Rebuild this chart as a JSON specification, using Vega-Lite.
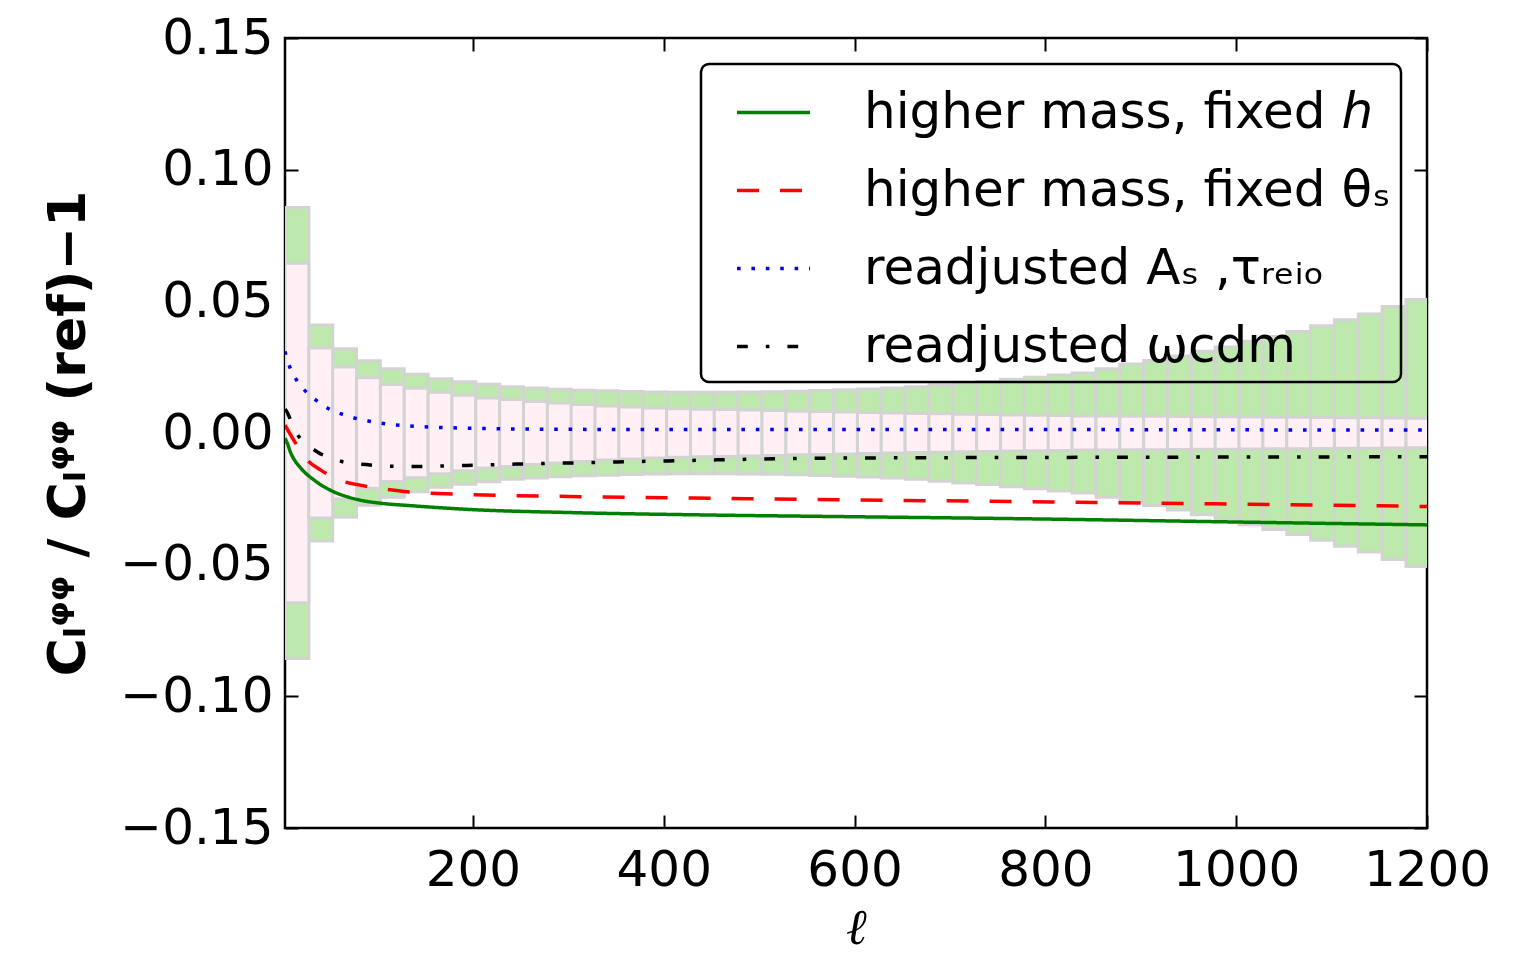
{
  "$schema": "https://vega.github.io/schema/vega-lite/v6.json",
  "autosize": {"type": "none"},
  "padding": {"left": 285, "top": 38, "right": 88, "bottom": 129},
  "width": 1142,
  "height": 790,
  "background": "white",
  "config": {
    "view": {"stroke": "black", "strokeWidth": 2.5},
    "axis": {"grid": false, "domain": false, "tickColor": "black", "tickWidth": 2, "tickSize": -13, "labelColor": "black", "labelFont": "DejaVu Sans", "labelFontSize": 50, "titleColor": "black", "labelOverlap": false, "labelFlush": false},
    "legend": {"strokeColor": "black", "strokeWidth": 2.5, "cornerRadius": 8, "padding": 10, "labelFont": "DejaVu Sans", "labelFontSize": 50, "labelColor": "black", "symbolType": "stroke", "symbolSize": 5329, "symbolStrokeWidth": 3.5, "symbolOffset": 24, "labelOffset": 52, "rowPadding": 14, "offset": 26, "labelLimit": 800}
  },
  "datasets": {
    "bins": [
      {"l0": 3, "l1": 28, "glo": -0.0856, "ghi": 0.0856, "plo": -0.0645, "phi": 0.0645},
      {"l0": 28, "l1": 53, "glo": -0.041, "ghi": 0.041, "plo": -0.0323, "phi": 0.0323},
      {"l0": 53, "l1": 78, "glo": -0.032, "ghi": 0.032, "plo": -0.0251, "phi": 0.0251},
      {"l0": 78, "l1": 103, "glo": -0.0274, "ghi": 0.0274, "plo": -0.021, "phi": 0.021},
      {"l0": 103, "l1": 128, "glo": -0.0244, "ghi": 0.0244, "plo": -0.0184, "phi": 0.0184},
      {"l0": 128, "l1": 153, "glo": -0.0223, "ghi": 0.0223, "plo": -0.017, "phi": 0.017},
      {"l0": 153, "l1": 178, "glo": -0.0206, "ghi": 0.0206, "plo": -0.0155, "phi": 0.0155},
      {"l0": 178, "l1": 203, "glo": -0.0195, "ghi": 0.0195, "plo": -0.0143, "phi": 0.0143},
      {"l0": 203, "l1": 228, "glo": -0.0185, "ghi": 0.0185, "plo": -0.0133, "phi": 0.0133},
      {"l0": 228, "l1": 253, "glo": -0.0176, "ghi": 0.0176, "plo": -0.0127, "phi": 0.0127},
      {"l0": 253, "l1": 278, "glo": -0.0171, "ghi": 0.0171, "plo": -0.012, "phi": 0.012},
      {"l0": 278, "l1": 303, "glo": -0.0166, "ghi": 0.0166, "plo": -0.0114, "phi": 0.0114},
      {"l0": 303, "l1": 328, "glo": -0.0162, "ghi": 0.0162, "plo": -0.0108, "phi": 0.0108},
      {"l0": 328, "l1": 353, "glo": -0.016, "ghi": 0.016, "plo": -0.0103, "phi": 0.0103},
      {"l0": 353, "l1": 378, "glo": -0.0158, "ghi": 0.0158, "plo": -0.0099, "phi": 0.0099},
      {"l0": 378, "l1": 403, "glo": -0.0156, "ghi": 0.0156, "plo": -0.0095, "phi": 0.0095},
      {"l0": 403, "l1": 428, "glo": -0.0155, "ghi": 0.0155, "plo": -0.0092, "phi": 0.0092},
      {"l0": 428, "l1": 453, "glo": -0.0155, "ghi": 0.0155, "plo": -0.009, "phi": 0.009},
      {"l0": 453, "l1": 478, "glo": -0.0155, "ghi": 0.0155, "plo": -0.0089, "phi": 0.0089},
      {"l0": 478, "l1": 503, "glo": -0.0156, "ghi": 0.0156, "plo": -0.0087, "phi": 0.0087},
      {"l0": 503, "l1": 528, "glo": -0.0157, "ghi": 0.0157, "plo": -0.0085, "phi": 0.0085},
      {"l0": 528, "l1": 553, "glo": -0.0159, "ghi": 0.0159, "plo": -0.0083, "phi": 0.0083},
      {"l0": 553, "l1": 578, "glo": -0.0161, "ghi": 0.0161, "plo": -0.0082, "phi": 0.0082},
      {"l0": 578, "l1": 603, "glo": -0.0164, "ghi": 0.0164, "plo": -0.008, "phi": 0.008},
      {"l0": 603, "l1": 628, "glo": -0.0167, "ghi": 0.0167, "plo": -0.0078, "phi": 0.0078},
      {"l0": 628, "l1": 653, "glo": -0.0171, "ghi": 0.0171, "plo": -0.0076, "phi": 0.0076},
      {"l0": 653, "l1": 678, "glo": -0.0176, "ghi": 0.0176, "plo": -0.0074, "phi": 0.0074},
      {"l0": 678, "l1": 703, "glo": -0.0183, "ghi": 0.0183, "plo": -0.0073, "phi": 0.0073},
      {"l0": 703, "l1": 728, "glo": -0.019, "ghi": 0.019, "plo": -0.0071, "phi": 0.0071},
      {"l0": 728, "l1": 753, "glo": -0.0196, "ghi": 0.0196, "plo": -0.007, "phi": 0.007},
      {"l0": 753, "l1": 778, "glo": -0.0204, "ghi": 0.0204, "plo": -0.0068, "phi": 0.0068},
      {"l0": 778, "l1": 803, "glo": -0.0212, "ghi": 0.0212, "plo": -0.0067, "phi": 0.0067},
      {"l0": 803, "l1": 828, "glo": -0.022, "ghi": 0.022, "plo": -0.0066, "phi": 0.0066},
      {"l0": 828, "l1": 853, "glo": -0.0228, "ghi": 0.0228, "plo": -0.0065, "phi": 0.0065},
      {"l0": 853, "l1": 878, "glo": -0.0244, "ghi": 0.0244, "plo": -0.0065, "phi": 0.0065},
      {"l0": 878, "l1": 903, "glo": -0.0262, "ghi": 0.0262, "plo": -0.0064, "phi": 0.0064},
      {"l0": 903, "l1": 928, "glo": -0.0275, "ghi": 0.0275, "plo": -0.0064, "phi": 0.0064},
      {"l0": 928, "l1": 953, "glo": -0.0292, "ghi": 0.0292, "plo": -0.0063, "phi": 0.0063},
      {"l0": 953, "l1": 978, "glo": -0.031, "ghi": 0.031, "plo": -0.0062, "phi": 0.0062},
      {"l0": 978, "l1": 1003, "glo": -0.0327, "ghi": 0.0327, "plo": -0.0062, "phi": 0.0062},
      {"l0": 1003, "l1": 1028, "glo": -0.0348, "ghi": 0.0348, "plo": -0.0061, "phi": 0.0061},
      {"l0": 1028, "l1": 1053, "glo": -0.0366, "ghi": 0.0366, "plo": -0.006, "phi": 0.006},
      {"l0": 1053, "l1": 1078, "glo": -0.0385, "ghi": 0.0385, "plo": -0.006, "phi": 0.006},
      {"l0": 1078, "l1": 1103, "glo": -0.0407, "ghi": 0.0407, "plo": -0.0059, "phi": 0.0059},
      {"l0": 1103, "l1": 1128, "glo": -0.043, "ghi": 0.043, "plo": -0.0058, "phi": 0.0058},
      {"l0": 1128, "l1": 1153, "glo": -0.0452, "ghi": 0.0452, "plo": -0.0058, "phi": 0.0058},
      {"l0": 1153, "l1": 1178, "glo": -0.048, "ghi": 0.048, "plo": -0.0057, "phi": 0.0057},
      {"l0": 1178, "l1": 1203, "glo": -0.0507, "ghi": 0.0507, "plo": -0.0056, "phi": 0.0056}
    ],
    "curves": [
      {"s": "higher mass, fixed ℎ", "l": 3, "v": -0.002},
      {"s": "higher mass, fixed ℎ", "l": 5, "v": -0.0035},
      {"s": "higher mass, fixed ℎ", "l": 9, "v": -0.0075},
      {"s": "higher mass, fixed ℎ", "l": 20, "v": -0.0135},
      {"s": "higher mass, fixed ℎ", "l": 34, "v": -0.018},
      {"s": "higher mass, fixed ℎ", "l": 51, "v": -0.0218},
      {"s": "higher mass, fixed ℎ", "l": 69, "v": -0.0243},
      {"s": "higher mass, fixed ℎ", "l": 86, "v": -0.0258},
      {"s": "higher mass, fixed ℎ", "l": 104, "v": -0.0267},
      {"s": "higher mass, fixed ℎ", "l": 135, "v": -0.0276},
      {"s": "higher mass, fixed ℎ", "l": 200, "v": -0.0291},
      {"s": "higher mass, fixed ℎ", "l": 300, "v": -0.0302},
      {"s": "higher mass, fixed ℎ", "l": 439, "v": -0.0311},
      {"s": "higher mass, fixed ℎ", "l": 600, "v": -0.0318},
      {"s": "higher mass, fixed ℎ", "l": 805, "v": -0.0327},
      {"s": "higher mass, fixed ℎ", "l": 1000, "v": -0.0338},
      {"s": "higher mass, fixed ℎ", "l": 1200, "v": -0.0349},
      {"s": "higher mass, fixed θₛ", "l": 3, "v": 0.003},
      {"s": "higher mass, fixed θₛ", "l": 11, "v": -0.002},
      {"s": "higher mass, fixed θₛ", "l": 25, "v": -0.0098},
      {"s": "higher mass, fixed θₛ", "l": 41, "v": -0.0142},
      {"s": "higher mass, fixed θₛ", "l": 64, "v": -0.0184},
      {"s": "higher mass, fixed θₛ", "l": 83, "v": -0.0199},
      {"s": "higher mass, fixed θₛ", "l": 107, "v": -0.0213},
      {"s": "higher mass, fixed θₛ", "l": 128, "v": -0.0222},
      {"s": "higher mass, fixed θₛ", "l": 200, "v": -0.0234},
      {"s": "higher mass, fixed θₛ", "l": 300, "v": -0.0241},
      {"s": "higher mass, fixed θₛ", "l": 430, "v": -0.0247},
      {"s": "higher mass, fixed θₛ", "l": 600, "v": -0.0254},
      {"s": "higher mass, fixed θₛ", "l": 807, "v": -0.0262},
      {"s": "higher mass, fixed θₛ", "l": 1000, "v": -0.027},
      {"s": "higher mass, fixed θₛ", "l": 1200, "v": -0.0279},
      {"s": "readjusted Aₛ ,τᵣₑᵢₒ", "l": 3, "v": 0.031},
      {"s": "readjusted Aₛ ,τᵣₑᵢₒ", "l": 4, "v": 0.0295},
      {"s": "readjusted Aₛ ,τᵣₑᵢₒ", "l": 9, "v": 0.0242},
      {"s": "readjusted Aₛ ,τᵣₑᵢₒ", "l": 16, "v": 0.0196},
      {"s": "readjusted Aₛ ,τᵣₑᵢₒ", "l": 26, "v": 0.0153},
      {"s": "readjusted Aₛ ,τᵣₑᵢₒ", "l": 38, "v": 0.0118},
      {"s": "readjusted Aₛ ,τᵣₑᵢₒ", "l": 50, "v": 0.009},
      {"s": "readjusted Aₛ ,τᵣₑᵢₒ", "l": 64, "v": 0.007},
      {"s": "readjusted Aₛ ,τᵣₑᵢₒ", "l": 79, "v": 0.0054},
      {"s": "readjusted Aₛ ,τᵣₑᵢₒ", "l": 93, "v": 0.0044},
      {"s": "readjusted Aₛ ,τᵣₑᵢₒ", "l": 109, "v": 0.0035},
      {"s": "readjusted Aₛ ,τᵣₑᵢₒ", "l": 124, "v": 0.0029},
      {"s": "readjusted Aₛ ,τᵣₑᵢₒ", "l": 200, "v": 0.0018},
      {"s": "readjusted Aₛ ,τᵣₑᵢₒ", "l": 300, "v": 0.0014},
      {"s": "readjusted Aₛ ,τᵣₑᵢₒ", "l": 450, "v": 0.0013},
      {"s": "readjusted Aₛ ,τᵣₑᵢₒ", "l": 600, "v": 0.0013},
      {"s": "readjusted Aₛ ,τᵣₑᵢₒ", "l": 800, "v": 0.0013},
      {"s": "readjusted Aₛ ,τᵣₑᵢₒ", "l": 1000, "v": 0.0012},
      {"s": "readjusted Aₛ ,τᵣₑᵢₒ", "l": 1200, "v": 0.0011},
      {"s": "readjusted ωcdm", "l": 3, "v": 0.009},
      {"s": "readjusted ωcdm", "l": 4, "v": 0.0086},
      {"s": "readjusted ωcdm", "l": 10, "v": 0.004},
      {"s": "readjusted ωcdm", "l": 17, "v": -0.0011},
      {"s": "readjusted ωcdm", "l": 25, "v": -0.004},
      {"s": "readjusted ωcdm", "l": 37, "v": -0.0072},
      {"s": "readjusted ωcdm", "l": 61, "v": -0.0107},
      {"s": "readjusted ωcdm", "l": 88, "v": -0.012},
      {"s": "readjusted ωcdm", "l": 113, "v": -0.0126},
      {"s": "readjusted ωcdm", "l": 140, "v": -0.0127},
      {"s": "readjusted ωcdm", "l": 193, "v": -0.0123},
      {"s": "readjusted ωcdm", "l": 245, "v": -0.0118},
      {"s": "readjusted ωcdm", "l": 299, "v": -0.0114},
      {"s": "readjusted ωcdm", "l": 351, "v": -0.011},
      {"s": "readjusted ωcdm", "l": 404, "v": -0.0106},
      {"s": "readjusted ωcdm", "l": 456, "v": -0.0102},
      {"s": "readjusted ωcdm", "l": 561, "v": -0.0096},
      {"s": "readjusted ωcdm", "l": 669, "v": -0.0094},
      {"s": "readjusted ωcdm", "l": 774, "v": -0.0093},
      {"s": "readjusted ωcdm", "l": 900, "v": -0.0092},
      {"s": "readjusted ωcdm", "l": 1050, "v": -0.0091},
      {"s": "readjusted ωcdm", "l": 1200, "v": -0.009}
    ]
  },
  "layer": [
    {
      "data": {"name": "bins"},
      "mark": {"type": "rect", "fill": "#bde9ad", "stroke": "#d3d3d3", "strokeWidth": 3, "clip": true},
      "encoding": {
        "x": {"field": "l0", "type": "quantitative", "scale": {"domain": [3, 1200], "nice": false, "zero": false},
              "axis": {"orient": "bottom", "values": [200, 400, 600, 800, 1000, 1200], "format": "d", "labelPadding": 30, "title": "ℓ", "titleFont": "DejaVu Serif", "titleFontStyle": "italic", "titleFontWeight": "normal", "titleFontSize": 50, "titlePadding": 8}},
        "x2": {"field": "l1"},
        "y": {"field": "glo", "type": "quantitative", "scale": {"domain": [-0.15, 0.15], "nice": false, "zero": false},
              "axis": {"orient": "left", "values": [-0.15, -0.1, -0.05, 0, 0.05, 0.1, 0.15], "format": ".2f", "labelPadding": 25, "title": "Cₗᵠᵠ / Cₗᵠᵠ (ref)−1", "titleFont": "DejaVu Sans", "titleFontWeight": "bold", "titleFontSize": 52, "titlePadding": 24}},
        "y2": {"field": "ghi"}
      }
    },
    {
      "data": {"name": "bins"},
      "mark": {"type": "rect", "fill": "#fff0f5", "stroke": "#d3d3d3", "strokeWidth": 3, "clip": true},
      "encoding": {
        "x": {"field": "l0", "type": "quantitative", "axis": null},
        "x2": {"field": "l1"},
        "y": {"field": "plo", "type": "quantitative", "axis": null},
        "y2": {"field": "phi"}
      }
    },
    {
      "data": {"name": "curves"},
      "mark": {"type": "line", "strokeWidth": 3.5, "strokeCap": "butt", "interpolate": "monotone", "clip": true},
      "encoding": {
        "x": {"field": "l", "type": "quantitative", "axis": {"orient": "top", "values": [200, 400, 600, 800, 1000, 1200], "labels": false, "title": null}},
        "y": {"field": "v", "type": "quantitative", "axis": {"orient": "right", "values": [-0.15, -0.1, -0.05, 0, 0.05, 0.1, 0.15], "labels": false, "title": null}},
        "color": {"field": "s", "type": "nominal", "title": null,
                  "scale": {"domain": ["higher mass, fixed ℎ", "higher mass, fixed θₛ", "readjusted Aₛ ,τᵣₑᵢₒ", "readjusted ωcdm"], "range": ["#008000", "#ff0000", "#0000ff", "#000000"]},
                  "legend": {"orient": "top-right", "labelExpr": "datum.label + '\u00a0'"}},
        "strokeDash": {"field": "s", "type": "nominal", "title": null,
                  "scale": {"domain": ["higher mass, fixed ℎ", "higher mass, fixed θₛ", "readjusted Aₛ ,τᵣₑᵢₒ", "readjusted ωcdm"], "range": [[1, 0], [22, 21], [3.6, 10.8], [10.8, 18, 3.6, 18]]},
                  "legend": {"orient": "top-right", "labelExpr": "datum.label + '\u00a0'"}}
      }
    }
  ],
  "resolve": {"axis": {"x": "independent", "y": "independent"}}
}
